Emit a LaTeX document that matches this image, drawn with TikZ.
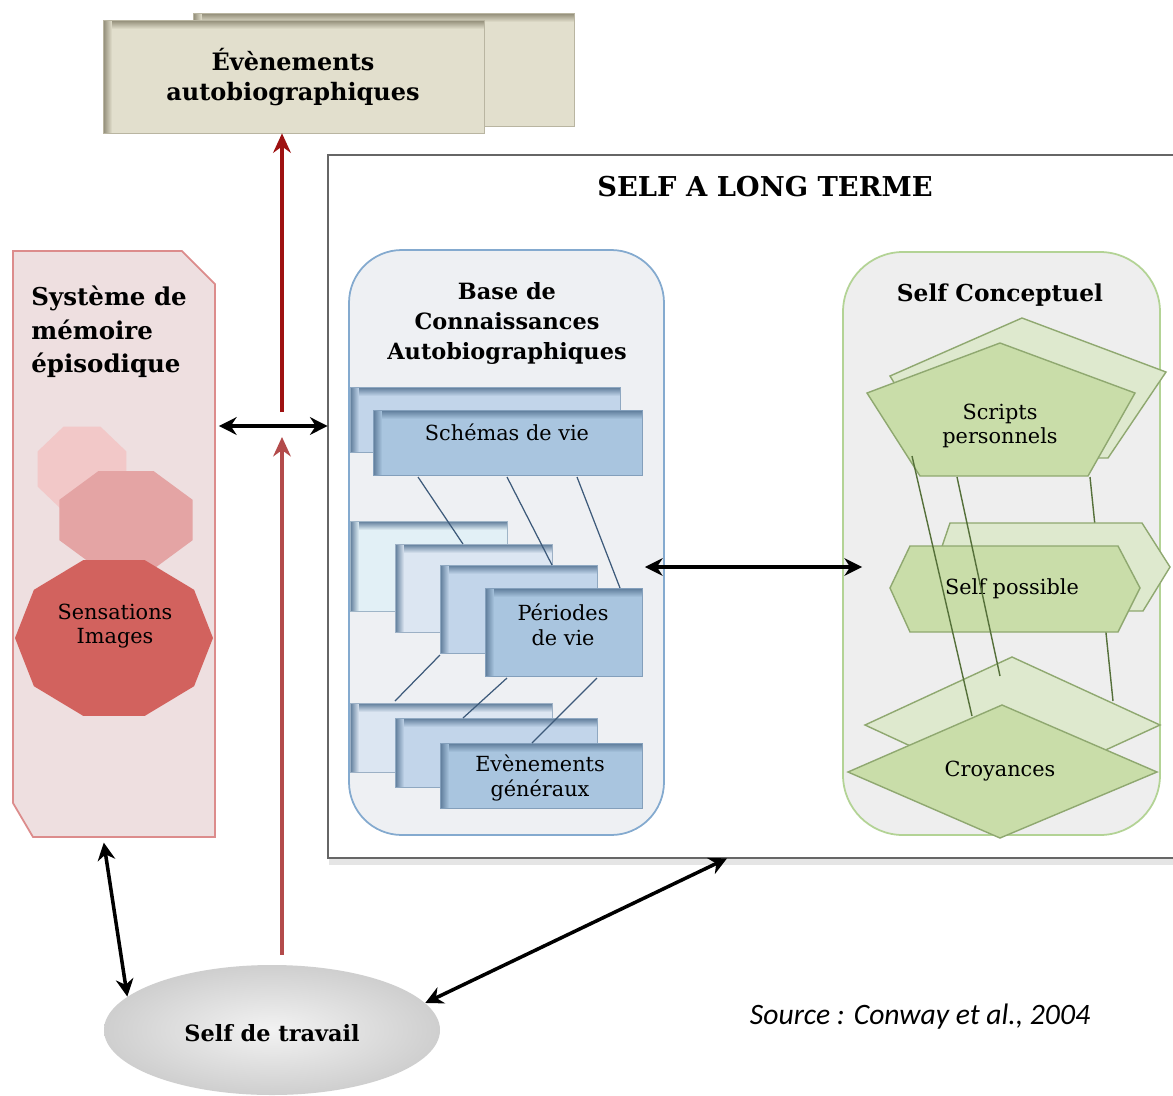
\documentclass[tikz,border=0pt]{standalone}
\usepackage{fontspec}
\setmainfont{DejaVu Serif}
\newfontfamily\srcfont{Carlito}
\usetikzlibrary{arrows.meta,fit,calc,shapes.geometric}
\definecolor{beige}{HTML}{E2DFCD}
\definecolor{beigeedge}{HTML}{8F8A75}
\definecolor{pinkbox}{HTML}{EEDFE0}
\definecolor{pinkborder}{HTML}{DC8C8C}
\definecolor{octA}{HTML}{F2C8C8}
\definecolor{octB}{HTML}{E4A4A4}
\definecolor{octC}{HTML}{D2625E}
\definecolor{basefill}{HTML}{EEF0F3}
\definecolor{baseborder}{HTML}{84AACF}
\definecolor{blueA}{HTML}{A9C5DF}
\definecolor{blueB}{HTML}{C2D5EA}
\definecolor{blueC}{HTML}{DCE6F2}
\definecolor{blueD}{HTML}{E2F0F6}
\definecolor{blueshadow}{HTML}{5C7A98}
\definecolor{bline}{HTML}{3D5A7A}
\definecolor{concfill}{HTML}{EEEEEE}
\definecolor{concborder}{HTML}{B3D395}
\definecolor{gfront}{HTML}{C9DDA9}
\definecolor{gback}{HTML}{DEE9CE}
\definecolor{gedge}{HTML}{8FA870}
\definecolor{gline}{HTML}{55703A}
\definecolor{redA}{HTML}{9E1111}
\definecolor{redB}{HTML}{B34B4B}
\newcommand\embox[6]{%
  \fill[#5] (#1,#2) rectangle (#3,#4);
  \shade[left color=#6,right color=#5] (#1,#2) rectangle ({#1+9},#4);
  \shade[top color=#6,bottom color=#5] ({#1+9},#2) rectangle (#3,{#2+9});
  \draw[#6!50!#5, line width=0.5pt] (#1,#2) rectangle (#3,#4);
}
\begin{document}
\begin{tikzpicture}[x=0.567pt,y=-0.567pt,
  hdr/.style={font=\bfseries\fontsize{12.7}{17}\selectfont, align=center, inner sep=0},
  lbl/.style={font=\fontsize{11.8}{14}\selectfont, align=center, inner sep=0},
  dbl/.style={{Stealth[length=10pt,width=10pt]}-{Stealth[length=10pt,width=10pt]}, line width=2pt, black},
  redarr/.style={-{Stealth[length=11pt,width=10pt]}, line width=2.6pt},
  gshape/.style={draw=gedge, line width=0.8pt},
  bl/.style={bline, line width=0.7pt},
  gl/.style={gline, line width=0.8pt}
]
\clip (0,0) rectangle (1173,1095);
\fill[white] (0,0) rectangle (1173,1095);

% Evenements autobiographiques
\embox{193}{13}{574}{126}{beige}{beigeedge}
\embox{103}{20}{484}{133}{beige}{beigeedge}
\node[fit={(103,20)(484,133)}, inner sep=0] (ev) {};
\node[hdr, font=\bfseries\fontsize{13.6}{17}\selectfont] (evt) at (293,77) {Évènements\\autobiographiques};

% Self a long terme
\draw[gray!20, line width=3pt] (332,159) rectangle (1200,862);
\draw[fill=white, draw=gray!80!black, line width=1.2pt] (328,155) rectangle (1200,858);
\node[fit={(328,155)(1200,858)}, inner sep=0] (selflt) {};
\node[hdr, font=\bfseries\fontsize{15.5}{17}\selectfont] (ltt) at (765,187) {SELF A LONG TERME};

% Systeme de memoire episodique
\draw[fill=pinkbox, draw=pinkborder, line width=1pt]
  (13,251) -- (182,251) -- (215,284) -- (215,837) -- (33,837) -- (13,803) -- cycle;
\node[fit={(13,251)(215,837)}, inner sep=0] (epi) {};
\node[hdr, align=left, anchor=north west, font=\bfseries\fontsize{13.9}{19}\selectfont] (epit) at (31,286) {Système de\\mémoire\\épisodique};
\fill[octA] plot[samples at={22.5,67.5,...,337.5}] ({82+48*cos(\x)},{469+46*sin(\x)}) -- cycle;
\fill[octB] plot[samples at={22.5,67.5,...,337.5}] ({126+72*cos(\x)},{520+53*sin(\x)}) -- cycle;
\fill[octC] plot[samples at={0,36,...,324}] ({114+99*cos(\x)},{638+82*sin(\x)}) -- cycle;
\node[lbl] (sens) at (115,626) {Sensations\\Images};

% Base de connaissances
\draw[fill=basefill, draw=baseborder, line width=1pt, rounded corners=30] (349,250) rectangle (664,835);
\node[fit={(349,250)(664,835)}, inner sep=0] (base) {};
\node[hdr] (baset) at (507,323) {Base de\\Connaissances\\Autobiographiques};
\embox{350}{387}{620}{452}{blueB}{blueshadow}
\embox{373}{410}{642}{475}{blueA}{blueshadow}
\node[lbl] (sch) at (507,432) {Schémas de vie};
\embox{350}{521}{507}{611}{blueD}{blueshadow}
\embox{395}{544}{552}{632}{blueC}{blueshadow}
\embox{440}{565}{597}{653}{blueB}{blueshadow}
\embox{485}{588}{642}{676}{blueA}{blueshadow}
\node[lbl] (per) at (563,625) {Périodes\\de vie};
\embox{350}{703}{552}{772}{blueC}{blueshadow}
\embox{395}{718}{597}{787}{blueB}{blueshadow}
\embox{440}{743}{642}{808}{blueA}{blueshadow}
\node[lbl] (evg) at (540,778) {Evènements\\généraux};
\draw[bl] (418,477) -- (463,544);
\draw[bl] (507,477) -- (552,565);
\draw[bl] (577,477) -- (620,588);
\draw[bl] (440,655) -- (395,701);
\draw[bl] (507,678) -- (463,718);
\draw[bl] (597,678) -- (532,743);

% Self conceptuel
\draw[fill=concfill, draw=concborder, line width=1pt, rounded corners=34] (843,252) rectangle (1160,835);
\node[fit={(843,252)(1160,835)}, inner sep=0] (concept) {};
\node[hdr, font=\bfseries\fontsize{13.2}{17}\selectfont] (conct) at (1000,295) {Self Conceptuel};
\draw[gshape, fill=gback] (890,376) -- (1022,318) -- (1166,372) -- (1108,458) -- (940,458) -- cycle;
\draw[gshape, fill=gfront] (867,393) -- (1000,343) -- (1135,393) -- (1088,476) -- (920,476) -- cycle;
\node[lbl] (scripts) at (1000,426) {Scripts\\personnels};
\draw[gshape, fill=gback] (1012,657) -- (1160,725) -- (1012,793) -- (865,725) -- cycle;
\draw[gl] (1090,477) -- (1113,701);
\draw[gshape, fill=gback] (935,567) -- (950,523) -- (1142,523) -- (1170,567) -- (1143,611) -- (950,611) -- cycle;
\draw[gshape, fill=gfront] (890,588) -- (910,546) -- (1118,546) -- (1140,588) -- (1118,632) -- (910,632) -- cycle;
\node[lbl] (poss) at (1012,589) {Self possible};
\draw[gl] (912,456) -- (972,716);
\draw[gl] (957,477) -- (1000,676);
\draw[gshape, fill=gfront] (1002,705) -- (1157,772) -- (1000,838) -- (848,772) -- cycle;
\node[lbl] (croy) at (1000,771) {Croyances};

% Self de travail
\shade[inner color=gray!10, outer color=gray!38] (272,1030) ellipse [x radius=168, y radius=65];
\node[ellipse, minimum width=336*0.567pt, minimum height=130*0.567pt, inner sep=0] (travail) at (272,1030) {};
\node[hdr, font=\bfseries\fontsize{12.7}{14}\selectfont] (travt) at (272,1033) {Self de travail};

% connectors
\coordinate (redx) at (282,0);
\coordinate (redbase) at (282,412);
\coordinate (redtip) at (282,437);
\coordinate (arrY) at (0,426);
\coordinate (midY) at (0,567);
\coordinate (ltX) at (727,0);
\coordinate (epX) at (103,0);
\draw[redarr, redA] (redbase) -- (redx |- ev.south);
\draw[redarr, redB, shorten <=10*0.567pt] (redx |- travail.north) -- (redtip);
\draw[dbl, shorten <=2pt] (epi.east |- arrY) -- (selflt.west |- arrY);
\draw[dbl, shorten <=-11pt, shorten >=-11pt] (base.east |- midY) -- (concept.west |- midY);
\draw[dbl, shorten <=3pt] (epX |- epi.south) -- (travail.167);
\draw[dbl] (travail.10) -- (ltX |- selflt.south);

\node[font=\srcfont\itshape\fontsize{16.8}{18}\selectfont, inner sep=0] (src) at (920,1017) {Source : Conway et al., 2004};
\end{tikzpicture}
\end{document}
